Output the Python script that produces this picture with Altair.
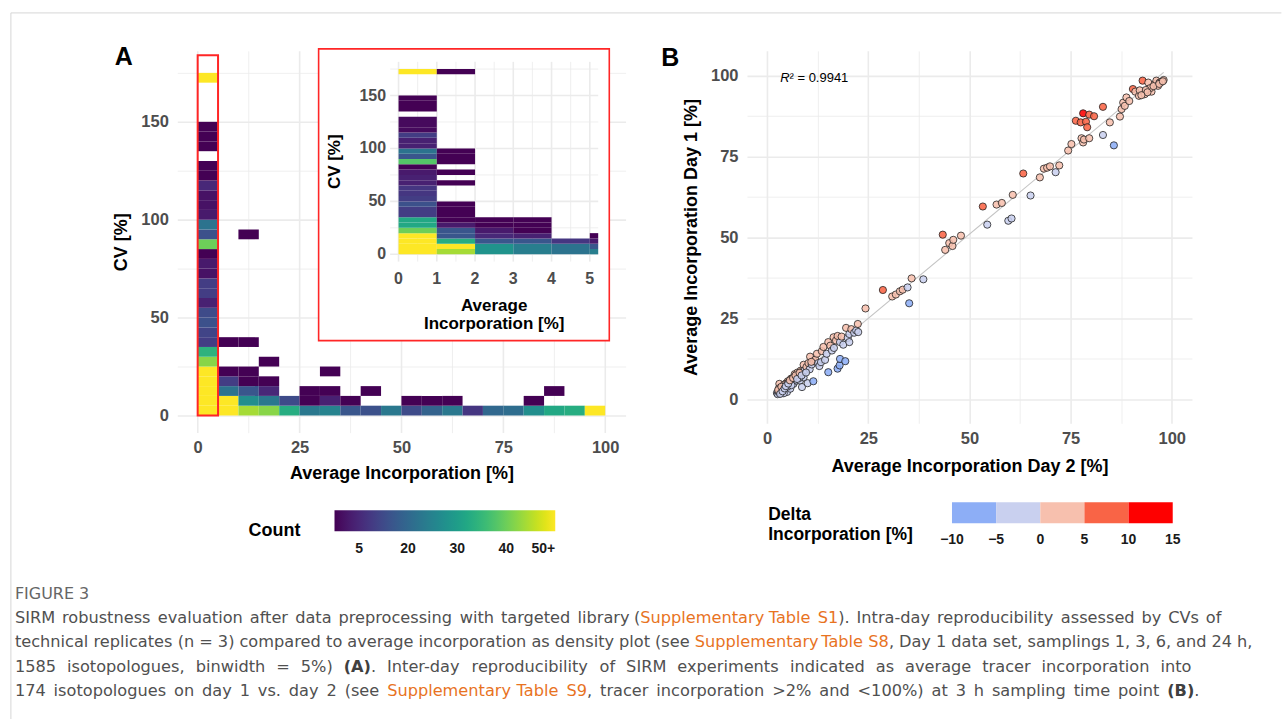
import re
import altair as alt
import pandas as pd

FONT = "Liberation Sans"
CAP_FONT = "DejaVu Sans"
GRID = "#ebebeb"
TICK_GREY = "#4d4d4d"
BOX_RED = "#ff2626"

# ---------------- Panel A: main density plot, 5 % x 5 % bins (counts >= 50 shown as 50+) ----------------
main_inc_bin = ([0] * 30 + [5] * 6 + [10] * 7 + [15] * 5 + [20] * 2 + [25] * 3 + [30] * 4
                + [35] * 2 + [40] * 2 + [45] + [50] * 2 + [55] * 2 + [60] * 2 + [65] + [70]
                + [75] + [80] * 2 + [85] * 2 + [90] + [95])
main_cv_bin = ([0, 5, 10, 15, 20, 25, 30, 35, 40, 45, 50, 55, 60, 65, 70, 75, 80, 85, 90, 95,
                100, 105, 110, 115, 120, 125, 135, 140, 145, 170]
               + [0, 5, 10, 15, 20, 35] + [0, 5, 10, 15, 20, 35, 90] + [0, 5, 10, 15, 25]
               + [0, 5] + [0, 5, 10] + [0, 5, 10, 20] + [0, 5] + [0, 10] + [0] + [0, 5]
               + [0, 5] + [0, 5] + [0] + [0] + [0] + [0, 5] + [0, 10] + [0] + [0])
main_count = ([50, 50, 50, 50, 50, 42, 34, 13, 14, 16, 15, 9, 13, 13, 7, 8, 4, 40, 16, 22,
               8, 7, 7, 10, 5, 5, 4, 3, 5, 50]
              + [50, 50, 22, 13, 4, 3] + [44, 27, 17, 5, 4, 3, 3] + [42, 23, 10, 5, 3]
              + [33, 15] + [23, 5, 4] + [25, 9, 4, 3] + [17, 4] + [16, 3] + [23] + [15, 4]
              + [19, 4] + [23, 4] + [12] + [20] + [21] + [27, 4] + [32, 3] + [33] + [50])

# ---------------- Panel A inset: 1 % x 5 % bins, zoom on 0-5 % ----------------
inset_inc_bin = [0] * 30 + [1] * 16 + [2] * 7 + [3] * 7 + [4] * 3 + [5] * 4
inset_cv_bin = ([0, 5, 10, 15, 20, 25, 30, 35, 40, 45, 50, 55, 60, 65, 70, 75, 80, 85, 90, 95,
                 100, 105, 110, 115, 120, 125, 135, 140, 145, 170]
                + [0, 5, 10, 15, 20, 25, 30, 35, 40, 45, 65, 75, 85, 90, 95, 170]
                + [0, 5, 10, 15, 20, 25, 30] + [0, 5, 10, 15, 20, 25, 30] + [0, 5, 10]
                + [0, 5, 10, 15])
inset_count = ([50, 50, 50, 50, 40, 32, 32, 13, 13, 16, 13, 12, 12, 9, 9, 8, 3, 38, 17, 22,
                9, 9, 13, 6, 6, 6, 3, 5, 5, 50]
               + [44, 50, 33, 17, 17, 8, 3, 3, 3, 3, 3, 3, 3, 3, 3, 3]
               + [28, 28, 17, 10, 8, 4, 4] + [24, 24, 17, 9, 4, 4, 4] + [22, 22, 12]
               + [24, 17, 8, 4])

count_ticks = [10, 20, 30, 40, 50]
count_tick_labels = ["5", "20", "30", "40", "50+"]

# ---------------- Panel B: average incorporation day 2 (x) vs day 1 (y) ----------------
day2_inc = [2.4, 2.6, 2.8, 3.0, 3.1, 3.3, 3.4, 3.6, 3.7, 4.0, 4.2, 4.4, 4.5, 4.7, 4.9, 4.9, 5.1,
            5.3, 5.5, 5.7, 5.9, 6.1, 6.3, 6.5, 6.8, 6.9, 7.1, 7.3, 7.5, 7.7, 8.1, 8.3, 8.6, 8.8,
            9.0, 9.0, 9.3, 9.7, 10.0, 10.2, 10.5, 10.6, 11.0, 11.4, 11.6, 11.9, 12.3, 12.6, 12.9,
            13.3, 13.5, 13.9, 14.3, 14.7, 15.1, 15.1, 15.6, 16.0, 16.4, 16.5, 17.0, 17.4, 17.4,
            17.9, 18.0, 18.0, 18.4, 18.8, 19.3, 19.5, 19.9, 20.3, 20.3, 20.8, 21.5, 22.0, 22.4,
            22.5, 3.9, 5.0, 6.0, 7.9, 2.9, 4.1, 2.7, 3.2, 3.5, 3.8, 4.3, 4.6, 5.2, 5.6, 6.4, 7.0,
            7.4, 8.0, 8.5, 9.6, 10.9,
            24.3, 28.6, 30.9, 31.8, 32.8, 33.5, 34.7, 35.1, 35.7, 38.6, 43.4, 44.0, 45.0, 45.8,
            46.0, 47.9,
            53.3, 54.4, 56.7, 58.0, 59.6, 60.4, 60.7, 63.3, 65.1, 67.4, 68.4, 69.2, 69.9, 71.3,
            72.2,
            74.4, 75.2, 76.3, 77.5, 77.7, 78.1, 78.1, 78.3, 78.8, 79.1, 79.6, 79.6, 80.8, 83.0,
            83.0, 84.7, 85.7, 87.2, 87.6, 88.0, 88.4, 88.8, 90.4, 91.0, 91.9, 92.1, 92.8, 93.3,
            94.2, 95.0, 95.8, 96.2, 97.0, 98.0, 96.6, 94.7, 93.6, 97.4, 95.5, 96.9, 97.8, 94.0,
            92.5, 89.5]
day1_inc = [2.0, 1.6, 2.3, 4.8, 2.6, 3.0, 1.9, 2.0, 3.6, 3.8, 4.6, 2.8, 3.3, 5.0, 4.3, 2.3, 5.6,
            5.3, 4.6, 3.3, 6.4, 6.3, 5.4, 4.8, 7.8, 6.9, 5.9, 5.8, 8.3, 7.2, 5.8, 8.9, 3.8, 8.8,
            6.8, 10.7, 9.0, 10.0, 5.0, 11.2, 9.3, 13.2, 10.8, 5.6, 11.8, 12.3, 14.1, 11.2, 10.3,
            11.5, 14.9, 16.2, 12.2, 14.1, 17.7, 8.4, 16.6, 15.1, 19.2, 15.9, 18.2, 19.6, 9.5,
            10.5, 12.5, 17.7, 19.4, 16.9, 11.8, 22.1, 19.0, 20.2, 17.7, 21.7, 20.6, 21.3, 23.3,
            20.8, 2.9, 3.9, 4.4, 6.6, 3.4, 1.9, 2.9, 1.7, 3.9, 2.5, 3.4, 4.1, 4.9, 5.9, 6.6, 7.4,
            6.3, 8.2, 7.4, 8.3, 11.6,
            28.1, 33.8, 31.8, 32.4, 33.4, 33.9, 34.6, 29.7, 37.4, 37.1, 50.9, 46.2, 48.3, 47.4,
            49.3, 50.6,
            59.6, 54.0, 60.2, 60.7, 55.2, 55.9, 63.2, 69.8, 63.0, 68.6, 71.3, 71.6, 72.0, 70.2,
            72.3,
            76.9, 78.9, 86.1, 85.6, 80.7, 88.4, 79.4, 80.3, 85.8, 84.1, 88.0, 80.7, 87.5, 90.4,
            81.7, 85.6, 78.5, 87.4, 89.7, 91.7, 90.7, 93.3, 95.9, 95.1, 93.8, 95.5, 98.5, 94.3,
            97.9, 95.1, 97.4, 98.5, 97.9, 98.7, 96.9, 96.2, 95.6, 98.1, 96.8, 97.5, 98.3, 94.9,
            94.0, 92.2]
r2_text = "\u00b2 = 0.9941"
delta_edges = [-10, -5, 0, 5, 10, 15]
delta_colors = ["#8daef6", "#c9d0ef", "#f7c0ae", "#f96446", "#fe0000"]
delta_title_lines = ["Delta", "Incorporation [%]"]

a_x_ticks = [0, 12.5, 25, 37.5, 50, 62.5, 75, 87.5, 100]
a_y_ticks = [0, 25, 50, 75, 100, 125, 150, 175]
b_ticks = [0, 12.5, 25, 37.5, 50, 62.5, 75, 87.5, 100]
inset_x_ticks = [0, 0.5, 1, 1.5, 2, 2.5, 3, 3.5, 4, 4.5, 5]
inset_y_ticks = [0, 25, 50, 75, 100, 125, 150, 175]
inset_x_labels = [0, 1, 2, 3, 4, 5]
inset_y_labels = [0, 50, 100, 150]

# ---------------- caption ----------------
caption_title = "FIGURE 3"
caption_line_1 = [("SIRM robustness evaluation after data preprocessing with targeted library (", "text"),
                  ("Supplementary Table S1", "link"),
                  ("). Intra-day reproducibility assessed by CVs of", "text")]
caption_line_2 = [("technical replicates (n = 3) compared to average incorporation as density plot (see ", "text"),
                  ("Supplementary Table S8", "link"),
                  (", Day 1 data set, samplings 1, 3, 6, and 24 h,", "text")]
caption_line_3 = [("1585 isotopologues, binwidth = 5%) ", "text"), ("(A)", "bold"),
                  (". Inter-day reproducibility of SIRM experiments indicated as average tracer incorporation into", "text")]
caption_line_4 = [("174 isotopologues on day 1 vs. day 2 (see ", "text"),
                  ("Supplementary Table S9", "link"),
                  (", tracer incorporation >2% and <100%) at 3 h sampling time point ", "text"),
                  ("(B)", "bold"), (".", "text")]
caption_line_right_edges = [1222, 1253, 1192, 1200]   # where each caption line ends in the figure

# ======================= geometry / styles =======================
W_A, H_A = 448.8, 382.2
XA_DOM, YA_DOM = [-5, 105], [-8.75, 186.25]
XI_DOM, YI_DOM = [-0.22, 5.22], [-6.9, 181.8]
XI_RANGE, YI_RANGE = [213.1, 421.4], [211.0, 11.0]
W_B, H_B = 445.5, 372.9
XB_DOM, YB_DOM = [-5, 105], [-7.4, 107.7]
LEG_B_RANGE = [205.25, 426.25]
BIN_A, BIN_I = 5, 1


def grid_width(step):
    return {"condition": {"test": f"datum.value % {step} === 0", "value": 1.6}, "value": 0.8}


def label_every(step):
    return f"datum.value % {step} === 0 ? datum.label : ''"


count_scale = alt.Scale(scheme="viridis", domain=[5, 50], clamp=True)
label_expr_count = "".join(f"datum.value == {v} ? '{t}' : " for v, t in zip(count_ticks, count_tick_labels)) + "datum.label"

legend_A = alt.Legend(type="gradient", direction="horizontal", orient="none", legendX=71.4, legendY=460,
                      title="Count", titleOrient="left", titleAnchor="end", titleBaseline="middle",
                      titleFont=FONT, titleFontSize=18, titleFontWeight="bold", titleColor="black",
                      titlePadding=34, gradientLength=221, gradientThickness=21, gradientStrokeWidth=0,
                      values=count_ticks, labelExpr=label_expr_count, labelFont=FONT, labelFontSize=14,
                      labelFontWeight="bold", labelColor="#1a1a1a", labelOverlap=False,
                      labelAlign="center", labelOffset=11)

axA_x = alt.Axis(values=a_x_ticks, labelExpr=label_every(25), gridWidth=grid_width(25),
                 labelPadding=7, titlePadding=8)
axA_y = alt.Axis(values=a_y_ticks, labelExpr=label_every(50), gridWidth=grid_width(50),
                 labelPadding=9, titlePadding=10)
scA_x = alt.Scale(domain=XA_DOM, nice=False, zero=False)
scA_y = alt.Scale(domain=YA_DOM, nice=False, zero=False)


def enc_main():
    return dict(x=alt.X("x0:Q", scale=scA_x, axis=axA_x, title="Average Incorporation [%]"),
                x2="x1:Q",
                y=alt.Y("y0:Q", scale=scA_y, axis=axA_y, title="CV [%]"),
                y2="y1:Q")


main_df = pd.DataFrame({"x0": main_inc_bin, "y0": main_cv_bin, "n": main_count})
main_df["x1"] = main_df["x0"] + BIN_A
main_df["y1"] = main_df["y0"] + BIN_A

main_tiles = alt.Chart(main_df).mark_rect().encode(
    color=alt.Color("n:Q", scale=count_scale, legend=legend_A, title="Count"), **enc_main())

box_df = pd.DataFrame({"x0": [0], "x1": [BIN_A], "y0": [0], "y1": [184]})
main_box = alt.Chart(box_df).mark_rect(fillOpacity=0, stroke=BOX_RED, strokeWidth=2).encode(**enc_main())

one = pd.DataFrame({"t": ["A"]})
letter_A = alt.Chart(one).mark_text(font=FONT, fontSize=25, fontWeight="bold", color="black").encode(
    text="t:N", x=alt.value(-53.6), y=alt.value(6))
page_top = alt.Chart(one).mark_rule(color="#d6d6d6", strokeWidth=1).encode(
    x=alt.value(-166.6), x2=alt.value(1105.4), y=alt.value(-38))
page_left = alt.Chart(one).mark_rule(color="#d6d6d6", strokeWidth=1).encode(
    x=alt.value(-166.6), y=alt.value(-38), y2=alt.value(669))

# ---- inset ----
scI_x = alt.Scale(domain=XI_DOM, range=XI_RANGE, nice=False, zero=False)
scI_y = alt.Scale(domain=YI_DOM, range=YI_RANGE, nice=False, zero=False)


def enc_inset(with_2=True):
    d = dict(x=alt.X("x0:Q", scale=scI_x, axis=None), y=alt.Y("y0:Q", scale=scI_y, axis=None))
    if with_2:
        d["x2"] = "x1:Q"
        d["y2"] = "y1:Q"
    return d


inset_df = pd.DataFrame({"x0": inset_inc_bin, "y0": inset_cv_bin, "n": inset_count})
inset_df["x1"] = (inset_df["x0"] + BIN_I).clip(upper=XI_DOM[1])
inset_df["y1"] = inset_df["y0"] + BIN_A

inset_bg_df = pd.DataFrame({"x0": [-2.09], "x1": [5.51], "y0": [-81.5], "y1": [194.1]})
inset_bg = alt.Chart(inset_bg_df).mark_rect(fill="white", stroke=BOX_RED, strokeWidth=1.6).encode(**enc_inset())

grid_rows = []
for v in inset_x_ticks:
    grid_rows.append({"x0": v, "x1": v, "y0": YI_DOM[0], "y1": YI_DOM[1], "major": float(v).is_integer()})
for v in inset_y_ticks:
    grid_rows.append({"x0": XI_DOM[0], "x1": XI_DOM[1], "y0": v, "y1": v, "major": v % 50 == 0})
inset_grid = alt.Chart(pd.DataFrame(grid_rows)).mark_rule(color=GRID).encode(
    strokeWidth=alt.condition("datum.major", alt.value(1.6), alt.value(0.8)), **enc_inset())

inset_tiles = alt.Chart(inset_df).mark_rect().encode(
    color=alt.Color("n:Q", scale=count_scale, title="Count"), **enc_inset())

ylab_df = pd.DataFrame({"x0": [XI_DOM[0]] * len(inset_y_labels), "y0": inset_y_labels,
                        "t": [str(v) for v in inset_y_labels]})
inset_ylab = alt.Chart(ylab_df).mark_text(font=FONT, fontSize=16, fontWeight="bold", color=TICK_GREY,
                                          align="right", baseline="middle", dx=-4).encode(
    text="t:N", **enc_inset(False))
xlab_df = pd.DataFrame({"x0": inset_x_labels, "y0": [YI_DOM[0]] * len(inset_x_labels),
                        "t": [str(v) for v in inset_x_labels]})
inset_xlab = alt.Chart(xlab_df).mark_text(font=FONT, fontSize=16, fontWeight="bold", color=TICK_GREY,
                                          align="center", baseline="middle", dy=17).encode(
    text="t:N", **enc_inset(False))
ytitle_df = pd.DataFrame({"x0": [XI_DOM[0]], "y0": [sum(YI_DOM) / 2], "t": ["CV [%]"]})
# rotated text: dy shifts horizontally (to the left for negative values)
inset_ytitle = alt.Chart(ytitle_df).mark_text(font=FONT, fontSize=17, fontWeight="bold", color="black",
                                              angle=270, align="center", baseline="middle", dy=-55).encode(
    text="t:N", **enc_inset(False))
xt_df1 = pd.DataFrame({"x0": [sum(XI_DOM) / 2], "y0": [YI_DOM[0]], "t": ["Average"]})
xt_df2 = pd.DataFrame({"x0": [sum(XI_DOM) / 2], "y0": [YI_DOM[0]], "t": ["Incorporation [%]"]})
inset_xtitle1 = alt.Chart(xt_df1).mark_text(font=FONT, fontSize=17, fontWeight="bold", color="black",
                                            align="center", baseline="middle", dy=44).encode(
    text="t:N", **enc_inset(False))
inset_xtitle2 = alt.Chart(xt_df2).mark_text(font=FONT, fontSize=17, fontWeight="bold", color="black",
                                            align="center", baseline="middle", dy=62).encode(
    text="t:N", **enc_inset(False))

main_group = alt.layer(main_tiles, main_box, letter_A, page_top, page_left)
inset_group = alt.layer(inset_bg, inset_grid, inset_tiles, inset_ylab, inset_xlab, inset_ytitle,
                        inset_xtitle1, inset_xtitle2)
panel_A = alt.layer(main_group, inset_group).resolve_scale(x="independent", y="independent").properties(
    width=W_A, height=H_A)

# ======================= panel B =======================
scB_x = alt.Scale(domain=XB_DOM, nice=False, zero=False)
scB_y = alt.Scale(domain=YB_DOM, nice=False, zero=False)
axB_x = alt.Axis(values=b_ticks, labelExpr=label_every(25), gridWidth=grid_width(25),
                 labelPadding=7, titlePadding=11)
axB_y = alt.Axis(values=b_ticks, labelExpr=label_every(25), gridWidth=grid_width(25),
                 labelPadding=9, titlePadding=10)
delta_scale = alt.Scale(type="quantize", domain=[delta_edges[0], delta_edges[-1]], range=delta_colors,
                        nice=False, zero=False)


def enc_B():
    return dict(x=alt.X("day2:Q", scale=scB_x, axis=axB_x, title="Average Incorporation Day 2 [%]"),
                y=alt.Y("day1:Q", scale=scB_y, axis=axB_y, title="Average Incorporation Day 1 [%]"))


bdf = pd.DataFrame({"day2": day2_inc, "day1": day1_inc})

reg_line = alt.Chart(bdf).transform_regression("day2", "day1").mark_line(
    color="#c4c4c4", strokeWidth=1.1).encode(**enc_B())
points = alt.Chart(bdf).transform_calculate(delta="datum.day1 - datum.day2").mark_circle(
    size=52, opacity=1, fillOpacity=0.88, stroke="#1a1a1a", strokeWidth=0.9, strokeOpacity=0.85).encode(
    fill=alt.Fill("delta:Q", scale=delta_scale, legend=None), **enc_B())

r2_df = pd.DataFrame({"day2": [3.2], "day1": [99.4], "r": ["R"], "rest": [r2_text]})
r2_R = alt.Chart(r2_df).mark_text(font=FONT, fontSize=13, fontStyle="italic", color="black",
                                  align="left", baseline="middle").encode(text="r:N", **enc_B())
r2_rest = alt.Chart(r2_df).mark_text(font=FONT, fontSize=13, color="black", align="left",
                                     baseline="middle", dx=9.4).encode(text="rest:N", **enc_B())
letter_B = alt.Chart(pd.DataFrame({"t": ["B"]})).mark_text(
    font=FONT, fontSize=25, fontWeight="bold", color="black").encode(
    text="t:N", x=alt.value(-76.75), y=alt.value(7))

# ---- binned colour legend of panel B, drawn through its own scale ----
scL = alt.Scale(domain=[delta_edges[0], delta_edges[-1]], range=LEG_B_RANGE, nice=False, zero=False)
leg_df = pd.DataFrame({"lo": delta_edges[:-1], "hi": delta_edges[1:]})
leg_df["delta"] = (leg_df["lo"] + leg_df["hi"]) / 2
leg_rect = alt.Chart(leg_df).mark_rect().encode(
    x=alt.X("lo:Q", scale=scL, axis=None), x2="hi:Q", y=alt.value(452), y2=alt.value(473),
    fill=alt.Fill("delta:Q", scale=delta_scale, legend=None))
leg_lab_df = pd.DataFrame({"lo": delta_edges, "t": [str(v).replace("-", "\u2212") for v in delta_edges]})
leg_lab = alt.Chart(leg_lab_df).mark_text(font=FONT, fontSize=14, fontWeight="bold", color="#1a1a1a",
                                          align="center", baseline="middle").encode(
    x=alt.X("lo:Q", scale=scL, axis=None), y=alt.value(490), text="t:N")
leg_title1 = alt.Chart(pd.DataFrame({"t": [delta_title_lines[0]]})).mark_text(
    font=FONT, fontSize=17.5, fontWeight="bold", color="black", align="left", baseline="middle").encode(
    text="t:N", x=alt.value(21.25), y=alt.value(465))
leg_title2 = alt.Chart(pd.DataFrame({"t": [delta_title_lines[1]]})).mark_text(
    font=FONT, fontSize=17.5, fontWeight="bold", color="black", align="left", baseline="middle").encode(
    text="t:N", x=alt.value(21.25), y=alt.value(485))

panel_B = alt.layer(
    alt.layer(reg_line, points, r2_R, r2_rest, letter_B, leg_title1, leg_title2),
    alt.layer(leg_rect, leg_lab)).resolve_scale(x="independent").properties(width=W_B, height=H_B)

# ======================= caption =======================
CAP_FS = 16.2
CAP_LEFT = 14
DV = {" ": 0.318, "(": 0.390, ")": 0.390, ",": 0.318, ".": 0.318, "-": 0.361, "=": 0.838,
      "%": 0.950, "<": 0.838, ">": 0.838,
      "A": 0.684, "B": 0.686, "C": 0.698, "D": 0.770, "E": 0.632, "F": 0.575, "G": 0.775,
      "H": 0.752, "I": 0.295, "J": 0.295, "K": 0.656, "L": 0.557, "M": 0.863, "N": 0.748,
      "O": 0.787, "P": 0.603, "Q": 0.787, "R": 0.695, "S": 0.635, "T": 0.611, "U": 0.732,
      "V": 0.684, "W": 0.989, "X": 0.685, "Y": 0.611, "Z": 0.685,
      "a": 0.613, "b": 0.635, "c": 0.550, "d": 0.635, "e": 0.615, "f": 0.352, "g": 0.635,
      "h": 0.634, "i": 0.278, "j": 0.278, "k": 0.579, "l": 0.278, "m": 0.974, "n": 0.634,
      "o": 0.612, "p": 0.635, "q": 0.635, "r": 0.411, "s": 0.521, "t": 0.392, "u": 0.634,
      "v": 0.592, "w": 0.818, "x": 0.592, "y": 0.592, "z": 0.525}
for dgt in "0123456789":
    DV[dgt] = 0.636
DV_BOLD = {"(": 0.457, ")": 0.457, "A": 0.774, "B": 0.762}
KERN = {"Ta": -0.15, "ry": -0.15}


def em_width(s, bold):
    w = sum((DV_BOLD.get(c, DV.get(c, 0.6)) if bold else DV.get(c, 0.6)) for c in s)
    w += sum(KERN.get(s[i:i + 2], 0.0) for i in range(len(s) - 1))
    return w


STYLE_COL = {"text": "#505050", "link": "#e8731f", "bold": "#404040", "head": "#666666"}
cap_rows = [{"line": 0, "em": 0.0, "t": caption_title, "style": "head"}]
for i, (segs, right_edge) in enumerate(zip([caption_line_1, caption_line_2, caption_line_3, caption_line_4],
                                           caption_line_right_edges), start=1):
    words, em, nsp = [], 0.0, 0
    for s, st in segs:
        for tok in re.findall(r"\S+| ", s):
            if tok == " ":
                em += DV[" "]
                nsp += 1
            else:
                words.append((tok, st, em, nsp))
                em += em_width(tok, st == "bold")
    extra = ((right_edge - CAP_LEFT) / CAP_FS - em) / max(nsp, 1)   # justify the line by word spacing
    for tok, st, start, before in words:
        cap_rows.append({"line": i, "em": start + before * extra, "t": tok, "style": st})
cap_df = pd.DataFrame(cap_rows)
cap_df["col"] = cap_df["style"].map(STYLE_COL)

CAP_X0 = CAP_LEFT - 176.6
cap_x = alt.Scale(domain=[0, 100], range=[CAP_X0, CAP_X0 + 100 * CAP_FS])
cap_y = alt.Scale(domain=[0, 4], range=[13, 110])


def cap_layer(styles, **mk):
    return alt.Chart(cap_df).transform_filter(
        alt.FieldOneOfPredicate(field="style", oneOf=styles)).mark_text(
        font=CAP_FONT, align="left", baseline="middle", **mk).encode(
        x=alt.X("em:Q", scale=cap_x, axis=None), y=alt.Y("line:Q", scale=cap_y, axis=None),
        text="t:N", color=alt.Color("col:N", scale=None))


caption = alt.layer(cap_layer(["text", "link"], fontSize=CAP_FS),
                    cap_layer(["bold"], fontSize=CAP_FS, fontWeight="bold"),
                    cap_layer(["head"], fontSize=16)).properties(width=440, height=120)

chart = alt.concat(panel_A, panel_B, caption, columns=2, bounds="flush",
                   spacing={"row": 147.8, "column": 121.35}).resolve_scale(
    color="independent", fill="independent", x="independent", y="independent").properties(
    padding={"left": 9.5, "top": 11.5, "right": 0, "bottom": 0}, background="white").configure_axis(
    labelFont=FONT, labelFontSize=16.5, labelFontWeight="bold", labelColor=TICK_GREY,
    titleFont=FONT, titleFontSize=18, titleFontWeight="bold", titleColor="black",
    ticks=False, domain=False, grid=True, gridColor=GRID, labelOverlap=False).configure_view(stroke=None)

chart.save("out.html", embed_options={"renderer": "svg", "actions": False})
